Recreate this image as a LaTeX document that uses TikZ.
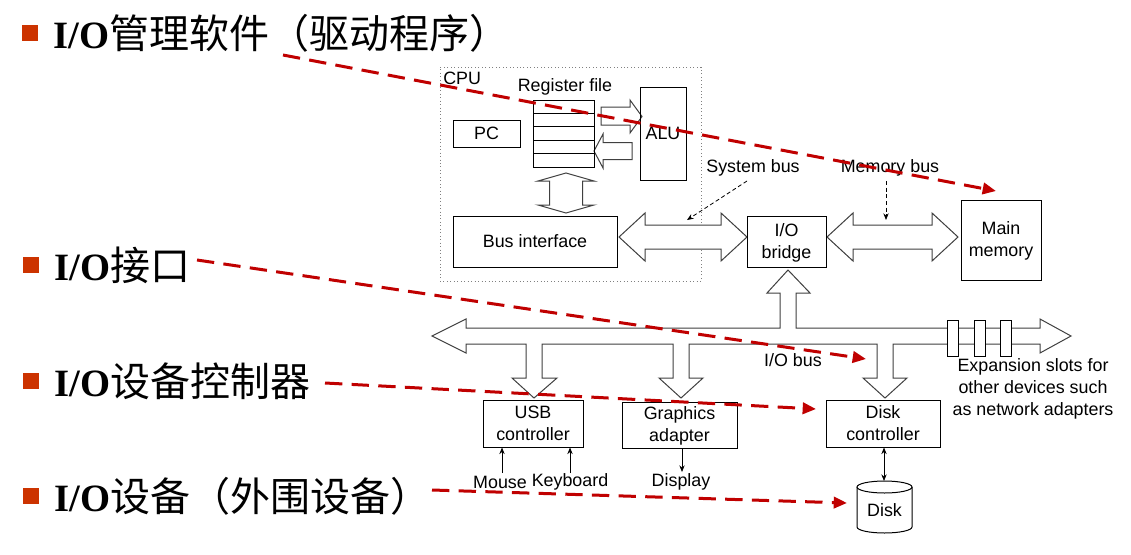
\documentclass[tikz,border=0pt]{standalone}
\usepackage{fontspec}
\setmainfont{Liberation Sans}
\newfontfamily\cjkf{Noto Sans CJK SC}
\newfontfamily\tnrf{Liberation Serif}
\usetikzlibrary{arrows.meta}
\definecolor{bulletred}{HTML}{CC3300}
\definecolor{dashred}{HTML}{C00000}
\definecolor{arrgray}{HTML}{404040}
\begin{document}
\begin{tikzpicture}[x=0.75pt,y=-0.75pt,
 box/.style={draw, line width=0.75pt, inner sep=0pt, align=center, font=\fontsize{13.4}{16.5}\selectfont},
 lbl/.style={inner sep=0pt, align=center, font=\fontsize{13.4}{16.5}\selectfont},
 blockarrow/.style={draw=arrgray, line width=0.75pt, fill=white, line join=miter},
 bigtext/.style={inner sep=0pt, anchor=west, font=\fontsize{29}{29}\selectfont},
 bulletsq/.style={fill=bulletred, minimum size=12pt, inner sep=0pt},
 redarrow/.style={draw=dashred, line width=2.25pt, dash pattern=on 13pt off 7pt, -{Triangle[length=10pt,width=8.5pt]}},
 smallarrow/.style={-{Stealth[length=5pt,width=4pt]}, line width=0.6pt},
 sdash/.style={-{Stealth[length=5pt,width=4pt]}, line width=0.6pt, dash pattern=on 3pt off 2pt},
]
\useasboundingbox (0,0) rectangle (1131,554);
\fill[white] (0,0) rectangle (1131,554);

% ---- left list ----
\newcommand\cjkbig{\cjkf\fontsize{30}{30}\selectfont}
\node[bulletsq] (b1) at (30,33) {};
\node[bigtext] (t1) at (53,33) {{\tnrf\bfseries I/O}{\cjkbig 管理软件（驱动程序）}};
\node[bulletsq] (b2) at (31,265) {};
\node[bigtext] (t2) at (54,265) {{\tnrf\bfseries I/O}{\cjkbig 接口}};
\node[bulletsq] (b3) at (31,381) {};
\node[bigtext] (t3) at (54,381) {{\tnrf\bfseries I/O}{\cjkbig 设备控制器}};
\node[bulletsq] (b4) at (31,496) {};
\node[bigtext] (t4) at (54,496) {{\tnrf\bfseries I/O}{\cjkbig 设备（外围设备）}};

% ---- CPU ----
\node[draw=gray, dotted, line width=0.6pt, minimum width=195.75pt, minimum height=160.5pt, inner sep=0pt] (cpu) at (570.5,174) {};
\node[lbl, anchor=west] (cpulbl) at (443,78) {CPU};
\node[lbl] (reglbl) at (565,87) {Register file};

% block arrows inside CPU
\draw[blockarrow] (601,107) -- (630,107) -- (630,100) -- (642,116.5) -- (630,133) -- (630,125) -- (601,125) -- cycle;
\draw[blockarrow] (632,142.5) -- (603,142.5) -- (603,134) -- (594,151) -- (603,168) -- (603,159.5) -- (632,159.5) -- cycle;
\draw[blockarrow] (566,173) -- (594,181) -- (582.5,181) -- (582.5,205) -- (594,205) -- (566,213) -- (538,205) -- (549.5,205) -- (549.5,181) -- (538,181) -- cycle;

\node[box, minimum width=50.25pt, minimum height=20.25pt] (pc) at (486.5,133.5) {PC};
\node[box, minimum width=45.75pt, minimum height=50.25pt] (regfile) at (563.5,133.5) {};
\foreach \yy in {113.4,126.8,140.2,153.6} \draw[line width=0.75pt] (533,\yy) -- (594,\yy);
\node[box, minimum width=34.5pt, minimum height=69.75pt] (alu) at (663,133.5) {ALU};
\node[box, minimum width=123pt, minimum height=38.25pt] (busif) at (535,241.5) {Bus interface};

% system bus & memory bus
\draw[blockarrow] (619,237) -- (645,213) -- (645,225) -- (721,225) -- (721,213) -- (747,237) -- (721,261) -- (721,249) -- (645,249) -- (645,261) -- cycle;
\draw[blockarrow] (827,237) -- (853,213) -- (853,225) -- (932,225) -- (932,213) -- (958,237) -- (932,261) -- (932,249) -- (853,249) -- (853,261) -- cycle;

\node[box, minimum width=59.25pt, minimum height=38.25pt, text depth=1pt] (bridge) at (786.5,241.5) {I/O\\bridge};
\node[box, minimum width=60pt, minimum height=60pt, text depth=1pt] (mem) at (1001,240) {Main\\memory};

\node[lbl] (sysbus) at (753,168) {System bus};
\node[lbl] (membus) at (890,168) {Memory bus};
\coordinate (sysbusA) at (747,181);
\coordinate (sysbusB) at (687,220);
\coordinate (membusA) at (886,181);
\coordinate (membusB) at (886,220);
\draw[sdash] (sysbusA) -- (sysbusB);
\draw[sdash] (membusA) -- (membusB);

% I/O bus
\draw[blockarrow] (432,336) -- (466,319) -- (466,328) -- (780,328) -- (780,293) -- (767,293) -- (788,270) -- (810,293) -- (796,293) -- (796,328) -- (1040,328) -- (1040,319) -- (1071,336) -- (1040,353) -- (1040,344) -- (893,344) -- (893,378) -- (907,378) -- (885,398) -- (863,378) -- (877,378) -- (877,344) -- (689,344) -- (689,378) -- (703,378) -- (681,398) -- (659,378) -- (673,378) -- (673,344) -- (542,344) -- (542,378) -- (557,378) -- (534,398) -- (512,378) -- (526,378) -- (526,344) -- (466,344) -- (466,353) -- cycle;
\foreach \xx in {947,974,1000} \draw[line width=0.75pt, fill=white] (\xx,320) rectangle ++(11,36);

\node[lbl] (iobus) at (793,360) {I/O bus};
\node[lbl] (exp) at (1033,389) {Expansion slots for\\other devices such\\as network adapters};

% controllers
\node[box, minimum width=75pt, minimum height=35.25pt, text depth=1pt] (usb) at (533,423.5) {USB\\controller};
\node[box, minimum width=86.25pt, minimum height=34.5pt, text depth=1pt] (gfx) at (679.5,425) {Graphics\\adapter};
\node[box, minimum width=85.5pt, minimum height=35.25pt, text depth=1pt] (dctl) at (883,423.5) {Disk\\controller};

% devices
\node[lbl] (mouse) at (500,482) {Mouse};
\node[lbl] (kbd) at (570,482) {Keyboard};
\node[lbl] (disp) at (681,482) {Display};
\coordinate (mouseA) at (502,473);
\coordinate (kbdA) at (570,473);
\coordinate (dispA) at (682,472);
\coordinate (dctlA) at (884,447);
\draw[smallarrow] (mouseA) -- (mouseA |- usb.south);
\draw[smallarrow] (kbdA) -- (kbdA |- usb.south);
\draw[smallarrow] (dispA |- gfx.south) -- (dispA);

% disk cylinder
\draw[line width=0.75pt, fill=white] (857,487) -- (857,527) arc[start angle=180, end angle=0, x radius=27.5, y radius=6] -- (912,487);
\draw[line width=0.75pt, fill=white] (884.5,487) ellipse[x radius=27.5, y radius=6];
\node[lbl] (disk) at (884.5,510) {Disk};
\coordinate (disktop) at (884,481);
\draw[{Stealth[length=5pt,width=4pt]}-{Stealth[length=5pt,width=4pt]}, line width=0.6pt] (dctlA |- dctl.south) -- (disktop);

% red dashed arrows
\coordinate (r1s) at (283,55);  \coordinate (r1e) at (996,191);
\coordinate (r2s) at (197,260); \coordinate (r2e) at (866,359);
\coordinate (r3s) at (325,383); \coordinate (r3e) at (816,409);
\coordinate (r4s) at (432,490); \coordinate (r4e) at (847,503);
\draw[redarrow] (r1s) -- (r1e);
\draw[redarrow] (r2s) -- (r2e);
\draw[redarrow] (r3s) -- (r3e);
\draw[redarrow] (r4s) -- (r4e);
\end{tikzpicture}
\end{document}
